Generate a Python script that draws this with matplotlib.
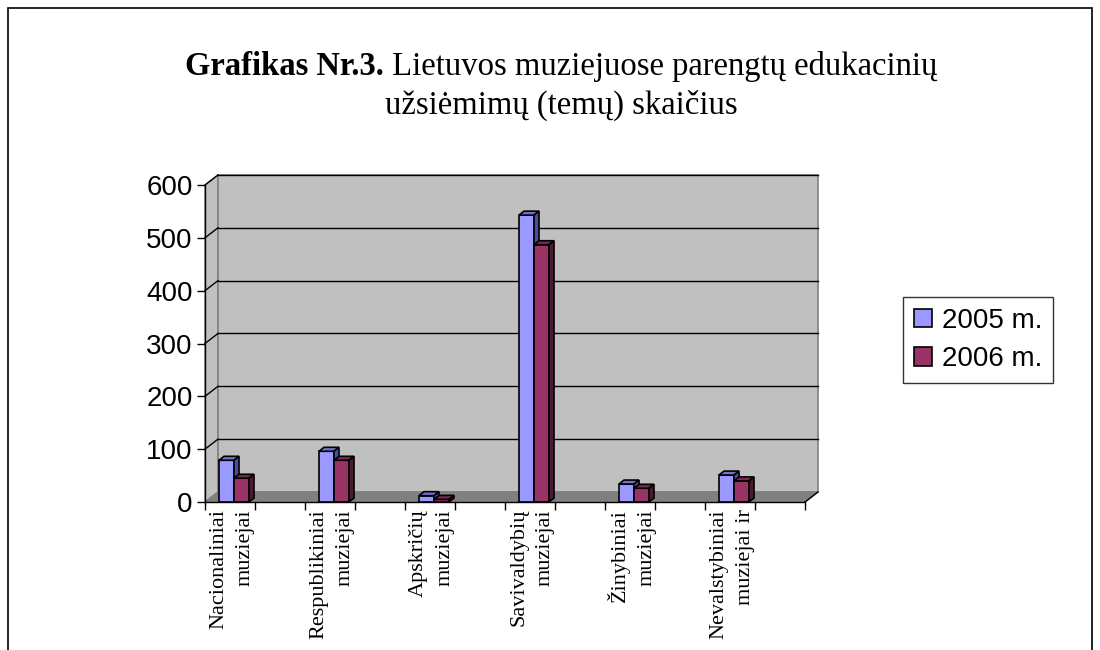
import numpy as np
import matplotlib.pyplot as plt
from matplotlib.patches import Polygon, Rectangle, Patch

categories = ['Nacionaliniai\nmuziejai', 'Respublikiniai\nmuziejai', 'Apskričių\nmuziejai',
              'Savivaldybių\nmuziejai', 'Žinybiniai\nmuziejai', 'Nevalstybiniai\nmuziejai ir']
values_2005 = [79, 96, 12, 543, 34, 51]
values_2006 = [45, 79, 5, 487, 26, 40]
series_labels = ['2005 m.', '2006 m.']
yticks = [0, 100, 200, 300, 400, 500, 600]

# front, top, side colours for each series
colors_2005 = ('#9999FF', '#7373CC', '#4D4D99')
colors_2006 = ('#993366', '#7A2952', '#4D1A33')

serif = 'Liberation Serif'
sans = 'Liberation Sans'

fig = plt.figure(figsize=(11, 6.5), dpi=100)
W, H = 1100, 650
ax = fig.add_axes([205 / W, 1 - 502 / H, 600 / W, 317 / H])
nslots = 2 * len(categories)
ax.set_xlim(0, nslots)
ax.set_ylim(0, 600)
for s in ax.spines.values():
    s.set_visible(False)
ax.patch.set_visible(False)

# depth of walls and of bars, in data units
wdx, wdy = 0.26, 19
bdx, bdy = 0.1, 7.5

# walls
left_wall = Polygon([(0, 0), (wdx, wdy), (wdx, 600 + wdy), (0, 600)], closed=True,
                    fc='#C0C0C0', ec='#808080', lw=1, clip_on=False, zorder=0)
back_wall = Rectangle((wdx, wdy), nslots, 600, fc='#C0C0C0', ec='#808080', lw=1.2,
                      clip_on=False, zorder=0)
floor = Polygon([(0, 0), (nslots, 0), (nslots + wdx, wdy), (wdx, wdy)], closed=True,
                fc='#808080', ec='#808080', lw=1, clip_on=False, zorder=0.5)
ax.add_patch(left_wall)
ax.add_patch(back_wall)
ax.add_patch(floor)
for y in yticks[1:]:
    ax.plot([wdx, nslots + wdx], [y + wdy, y + wdy], color='black', lw=1, clip_on=False, zorder=0.6)
    ax.plot([0, wdx], [y, y + wdy], color='black', lw=1, clip_on=False, zorder=0.6)
ax.plot([nslots, nslots + wdx], [0, wdy], color='black', lw=1, clip_on=False, zorder=0.6)

# axis lines
ax.plot([0, 0], [0, 600], color='black', lw=1, clip_on=False, zorder=3)
ax.plot([0, nslots], [0, 0], color='black', lw=1, clip_on=False, zorder=3)


def draw_bar(x0, w, h, cols):
    front, top, side = cols
    ax.add_patch(Rectangle((x0, 0), w, h, fc=front, ec='black', lw=1.2, zorder=2, clip_on=False))
    ax.add_patch(Polygon([(x0, h), (x0 + w, h), (x0 + w + bdx, h + bdy), (x0 + bdx, h + bdy)],
                         closed=True, fc=top, ec='black', lw=1.2, zorder=2, clip_on=False))
    ax.add_patch(Polygon([(x0 + w, 0), (x0 + w + bdx, bdy), (x0 + w + bdx, h + bdy), (x0 + w, h)],
                         closed=True, fc=side, ec='black', lw=1.2, zorder=2, clip_on=False))


bw = 0.3
centers = np.arange(len(categories)) * 2 + 0.5
for c, v5, v6 in zip(centers, values_2005, values_2006):
    draw_bar(c - 0.22, bw, v5, colors_2005)
    draw_bar(c - 0.22 + bw, bw, v6, colors_2006)

# ticks
ax.set_yticks(yticks)
ax.set_yticklabels([str(t) for t in yticks], fontsize=20, family=sans)
ax.tick_params(axis='y', length=6, width=1, pad=3)
ax.set_xticks(np.arange(nslots + 1))
ax.set_xticklabels([])
ax.tick_params(axis='x', which='major', length=6, width=1, direction='out')
ax.set_xticks(centers + 0.04, minor=True)
ax.set_xticklabels(categories, minor=True, rotation=90, fontsize=16, family=serif, va='top',
                   linespacing=1.55)
ax.tick_params(axis='x', which='minor', length=0, pad=5)
for lab in ax.get_xticklabels(minor=True):
    lab.set_multialignment('right')

# legend
handles = [Patch(fc=colors_2005[0], ec='black', lw=1.2), Patch(fc=colors_2006[0], ec='black', lw=1.2)]
leg = fig.legend(handles, series_labels, loc='center left', bbox_to_anchor=(903 / W, 1 - 340 / H),
                 prop={'family': sans, 'size': 20}, frameon=True, fancybox=False, edgecolor='black',
                 handlelength=0.65, handleheight=0.65, handletextpad=0.35, borderpad=0.4,
                 labelspacing=0.45, borderaxespad=0)
leg.get_frame().set_linewidth(1)

# title with a bold prefix
renderer = fig.canvas.get_renderer()
bold = fig.text(0, 0, 'Grafikas Nr.3.', family=serif, weight='bold', fontsize=23.5, va='baseline')
rest = fig.text(0, 0, ' Lietuvos muziejuose parengtų edukacinių', family=serif, fontsize=23.5,
                va='baseline')
wb = bold.get_window_extent(renderer).width
wr = rest.get_window_extent(renderer).width
x_start = 561 - (wb + wr) / 2
y1 = 1 - 75 / H
bold.set_position((x_start / W, y1))
rest.set_position(((x_start + wb) / W, y1))
fig.text(561 / W, 1 - 114 / H, 'užsiėmimų (temų) skaičius', family=serif, fontsize=23.5,
         ha='center', va='baseline')

# outer border of the chart
fig.add_artist(Rectangle((8 / W, -0.05), 1084 / W, 1.05 - 8 / H, transform=fig.transFigure,
                         fill=False, ec='black', lw=1.2))

fig.savefig('out.png', dpi=100)
